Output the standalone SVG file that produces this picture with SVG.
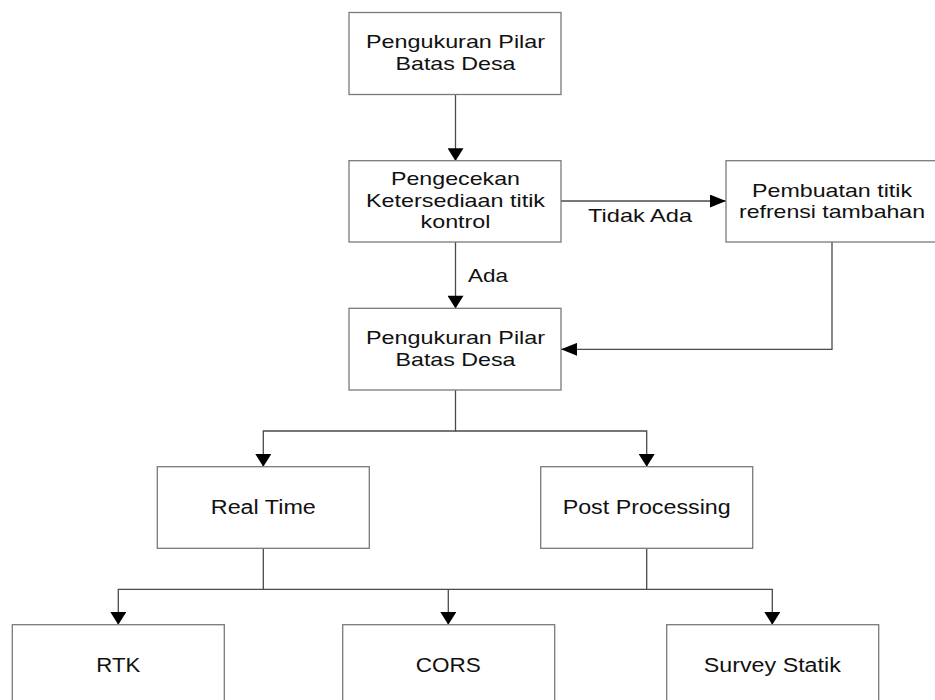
<svg xmlns="http://www.w3.org/2000/svg" width="935" height="700" viewBox="0 0 935 700">
<style>
.box{fill:#fff;stroke:#7a7a7a;stroke-width:1.3}
.t{font-family:"Liberation Sans",Arial,sans-serif;font-size:18.5px;fill:#111;text-anchor:middle}
.tb{font-size:19.5px}
.lbl{font-family:"Liberation Sans",Arial,sans-serif;font-size:18.5px;fill:#111}
.c{fill:none;stroke:#4a4a4a;stroke-width:1.3}
</style>
<defs>
<marker id="av" markerUnits="userSpaceOnUse" markerWidth="14" markerHeight="16" refX="12" refY="7.5" orient="auto" viewBox="0 0 12 15">
<path d="M0,0 L12,7.5 L0,15 z" fill="#000"/>
</marker>
<marker id="ah" markerUnits="userSpaceOnUse" markerWidth="16" markerHeight="13" refX="15" refY="6" orient="auto" viewBox="0 0 15 12">
<path d="M0,0 L15,6 L0,12 z" fill="#000"/>
</marker>
</defs>
<rect width="935" height="700" fill="#fff"/>
<g id="connectors">
<path class="c" d="M455.5,94.5 V161" marker-end="url(#av)"/>
<path class="c" d="M455.5,242 V308.5" marker-end="url(#av)"/>
<path class="c" d="M561,201 H726" marker-end="url(#ah)"/>
<path class="c" d="M832,242 V349.3 H561" marker-end="url(#ah)"/>
<path class="c" d="M455.5,390 V431 H263.3 V466.7" marker-end="url(#av)"/>
<path class="c" d="M455.5,431 H646.7 V466.7" marker-end="url(#av)"/>
<path class="c" d="M263.3,548.3 V589.3 H118.3 V624.7" marker-end="url(#av)"/>
<path class="c" d="M646.7,548.3 V589.3 H772.3 V624.7" marker-end="url(#av)"/>
<path class="c" d="M263.3,589.3 H646.7"/>
<path class="c" d="M448.3,589.3 V624.7" marker-end="url(#av)"/>
<text class="lbl" x="588" y="221.7" textLength="104" lengthAdjust="spacingAndGlyphs">Tidak Ada</text>
<text class="lbl" x="468" y="281.7" textLength="40" lengthAdjust="spacingAndGlyphs">Ada</text>
</g>
<g id="n1">
<rect class="box" x="349" y="12.5" width="212" height="82"/>
<text class="t" x="455.5" y="48.3" textLength="179" lengthAdjust="spacingAndGlyphs">Pengukuran Pilar</text>
<text class="t" x="455.5" y="69.5" textLength="120" lengthAdjust="spacingAndGlyphs">Batas Desa</text>
</g>
<g id="n2">
<rect class="box" x="349" y="160.7" width="212" height="81.3"/>
<text class="t" x="455.5" y="185" textLength="129" lengthAdjust="spacingAndGlyphs">Pengecekan</text>
<text class="t" x="455.5" y="206.7" textLength="179" lengthAdjust="spacingAndGlyphs">Ketersediaan titik</text>
<text class="t" x="455.5" y="228.3" textLength="70" lengthAdjust="spacingAndGlyphs">kontrol</text>
</g>
<g id="n3">
<rect class="box" x="726" y="160.7" width="212" height="81.3"/>
<text class="t" x="832" y="196.5" textLength="160" lengthAdjust="spacingAndGlyphs">Pembuatan titik</text>
<text class="t" x="832" y="218" textLength="186" lengthAdjust="spacingAndGlyphs">refrensi tambahan</text>
</g>
<g id="n4">
<rect class="box" x="349" y="308.3" width="212" height="81.7"/>
<text class="t" x="455.5" y="344.3" textLength="179" lengthAdjust="spacingAndGlyphs">Pengukuran Pilar</text>
<text class="t" x="455.5" y="366" textLength="120" lengthAdjust="spacingAndGlyphs">Batas Desa</text>
</g>
<g id="n5">
<rect class="box" x="157.3" y="466.7" width="212" height="81.6"/>
<text class="t tb" x="263.3" y="514" textLength="105" lengthAdjust="spacingAndGlyphs">Real Time</text>
</g>
<g id="n6">
<rect class="box" x="540.7" y="466.7" width="212" height="81.6"/>
<text class="t tb" x="646.7" y="514" textLength="168" lengthAdjust="spacingAndGlyphs">Post Processing</text>
</g>
<g id="n7">
<rect class="box" x="12.3" y="624.7" width="212" height="82"/>
<text class="t tb" x="118.3" y="671.5" textLength="44" lengthAdjust="spacingAndGlyphs">RTK</text>
</g>
<g id="n8">
<rect class="box" x="342.7" y="624.7" width="212" height="82"/>
<text class="t tb" x="448.3" y="671.5" textLength="65" lengthAdjust="spacingAndGlyphs">CORS</text>
</g>
<g id="n9">
<rect class="box" x="666.7" y="624.7" width="212" height="82"/>
<text class="t tb" x="772.3" y="671.5" textLength="137" lengthAdjust="spacingAndGlyphs">Survey Statik</text>
</g>
</svg>
